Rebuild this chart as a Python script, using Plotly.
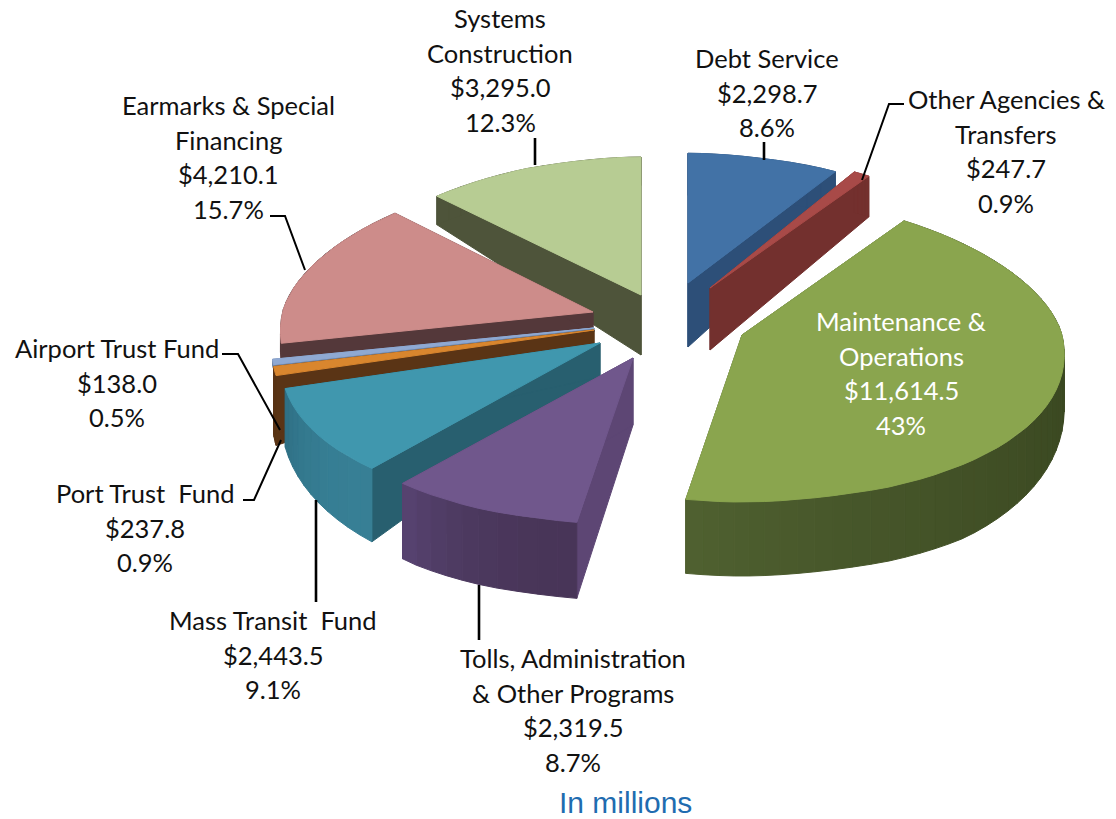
import math
import plotly.graph_objects as go

# ---- data ----
categories = ["Debt Service", "Other Agencies & Transfers", "Maintenance & Operations",
              "Tolls, Administration & Other Programs", "Mass Transit Fund", "Port Trust Fund",
              "Airport Trust Fund", "Earmarks & Special Financing", "Systems Construction"]
values = [2298.7, 247.7, 11614.5, 2319.5, 2443.5, 237.8, 138.0, 4210.1, 3295.0]
percents = ["8.6%", "0.9%", "43%", "8.7%", "9.1%", "0.9%", "0.5%", "15.7%", "12.3%"]
label_lines = [["Debt Service"], ["Other Agencies &", "Transfers"], ["Maintenance &", "Operations"],
               ["Tolls, Administration", "& Other Programs"], ["Mass Transit  Fund"], ["Port Trust  Fund"],
               ["Airport Trust Fund"], ["Earmarks & Special", "Financing"], ["Systems", "Construction"]]

# ---- style / layout ----
top_colors = ["#4272a6", "#a84a48", "#8aa54e", "#70578c", "#4097ae", "#d9862e", "#8fa9d3", "#cd8c8a", "#b7cc93"]
radial_colors = ["#2d4f78", "#73302e", "#4f6030", "#5d4674", "#285f6f", "#5a3415", "#6f86a8", "#54383a", "#4e543a"]
rim_from = ["#2d4f78", "#73302e", "#36431e", "#483558", "#377f95", "#5a3415", "#6f86a8", "#54383a", "#4e543a"]
rim_to = ["#2d4f78", "#73302e", "#4f6030", "#56426f", "#2f7085", "#5a3415", "#6f86a8", "#54383a", "#4e543a"]
center_x = [688, 710, 742, 633, 600, 594, 594, 593, 641]
center_y = [283, 288, 335, 358, 343, 330, 328, 312, 295]
apex_depth = [64, 62, 0, 67, 34, 13, 4, 20, 60]
rim_depth = [62, 60, 74, 76, 74, 88, 6, 24, 42]
rx_scale = [1.0, 0.98, 1.0, 1.0, 0.99, 1.0, 1.0, 0.97, 1.0]
ry_scale = [0.94, 0.98, 1.0, 1.0, 1.0, 1.0, 1.0, 1.0, 1.0]
draw_order = [8, 0, 7, 1, 6, 5, 4, 3, 2]
RX, RY_BACK, RY_FRONT, PERSP = 320, 138, 167, 0.12

label_center = [(767, 58), (1006, 99), (901, 321), (573, 658), (273, 620), (145, 493), (117, 348), (228, 105), (500, 18)]
label_color = ["#111"] * 9
label_color[2] = "#ffffff"
LINE_STEP = 34.5
thin_leaders = [[(904, 104), (889, 104), (862, 180)], [(270, 216), (285, 216), (305, 270)],
                [(222, 354), (238, 354), (280, 430)], [(243, 500), (254, 500), (281, 440)]]
thick_leaders = [[(764, 142), (764, 160)], [(535, 138), (535, 165)],
                 [(316, 500), (316, 602)], [(479, 585), (479, 640)]]


def hex_mix(a, b, t):
    ca = [int(a[i:i + 2], 16) for i in (1, 3, 5)]
    cb = [int(b[i:i + 2], 16) for i in (1, 3, 5)]
    return "rgb(%d,%d,%d)" % tuple(round(p + (q - p) * t) for p, q in zip(ca, cb))


def rim_point(i, theta):
    u, v = math.sin(theta), math.cos(theta)
    u = u * (0.8 + 0.2 * min(1.0, abs(u) / 0.4))
    rx = RX * rx_scale[i] * (1 - PERSP * v)
    ry = (RY_BACK if v > 0 else RY_FRONT) * ry_scale[i]
    return center_x[i] + rx * u, center_y[i] - ry * v


def depth_at(i, theta):
    v = math.cos(theta)
    return rim_depth[i] * (0.68 + 0.32 * min(1.0, max(0.0, -v) / 0.77))


fig = go.Figure()


def poly(points, color):
    fig.add_trace(go.Scatter(x=[p[0] for p in points] + [points[0][0]],
                             y=[p[1] for p in points] + [points[0][1]],
                             mode="lines", fill="toself", fillcolor=color,
                             line=dict(color=color, width=1),
                             hoverinfo="skip", showlegend=False))


total = sum(values)
starts = []
acc = 0.0
for val in values:
    starts.append(acc)
    acc += val

for i in draw_order:
    t0 = starts[i] / total * 2 * math.pi
    t1 = (starts[i] + values[i]) / total * 2 * math.pi
    apex = (center_x[i], center_y[i])
    steps = max(4, int((t1 - t0) / 0.05))
    thetas = [t0 + (t1 - t0) * k / steps for k in range(steps + 1)]
    arc = [rim_point(i, t) for t in thetas]
    # radial walls
    for t, p in ((t0, arc[0]), (t1, arc[-1])):
        poly([apex, p, (p[0], p[1] + depth_at(i, t)), (apex[0], apex[1] + apex_depth[i])], radial_colors[i])
    # outer wall, shaded in strips
    for k in range(steps):
        a, b = arc[k], arc[k + 1]
        poly([a, b, (b[0], b[1] + depth_at(i, thetas[k + 1])), (a[0], a[1] + depth_at(i, thetas[k]))],
             hex_mix(rim_from[i], rim_to[i], (k / max(1, steps - 1)) ** 2))
    # top face
    poly([apex] + arc, top_colors[i])

for group, width in ((thin_leaders, 2), (thick_leaders, 2.6)):
    for pts in group:
        fig.add_trace(go.Scatter(x=[p[0] for p in pts], y=[p[1] for p in pts], mode="lines",
                                 line=dict(color="#000", width=width), hoverinfo="skip", showlegend=False))

annotations = []
for i in range(len(categories)):
    lines = label_lines[i] + ["${:,.1f}".format(values[i]), percents[i]]
    cx, cy = label_center[i]
    for n, text in enumerate(lines):
        annotations.append(dict(x=cx, y=cy + n * LINE_STEP, text=text, showarrow=False, xanchor="center",
                                yanchor="middle", font=dict(family="Lato", size=25.5, color=label_color[i])))
annotations.append(dict(x=625, y=802, text="In millions", showarrow=False, xanchor="center", yanchor="middle",
                        font=dict(family="Liberation Sans", size=30, color="#1f6cb0")))

fig.update_layout(width=1116, height=819, margin=dict(l=0, r=0, t=0, b=0), paper_bgcolor="white",
                  plot_bgcolor="white", annotations=annotations,
                  xaxis=dict(range=[0, 1116], visible=False, fixedrange=True),
                  yaxis=dict(range=[819, 0], visible=False, fixedrange=True))
fig.write_html("out.html", config={"displayModeBar": False},
               post_script="document.body.style.margin='0';document.body.style.overflow='hidden';")
